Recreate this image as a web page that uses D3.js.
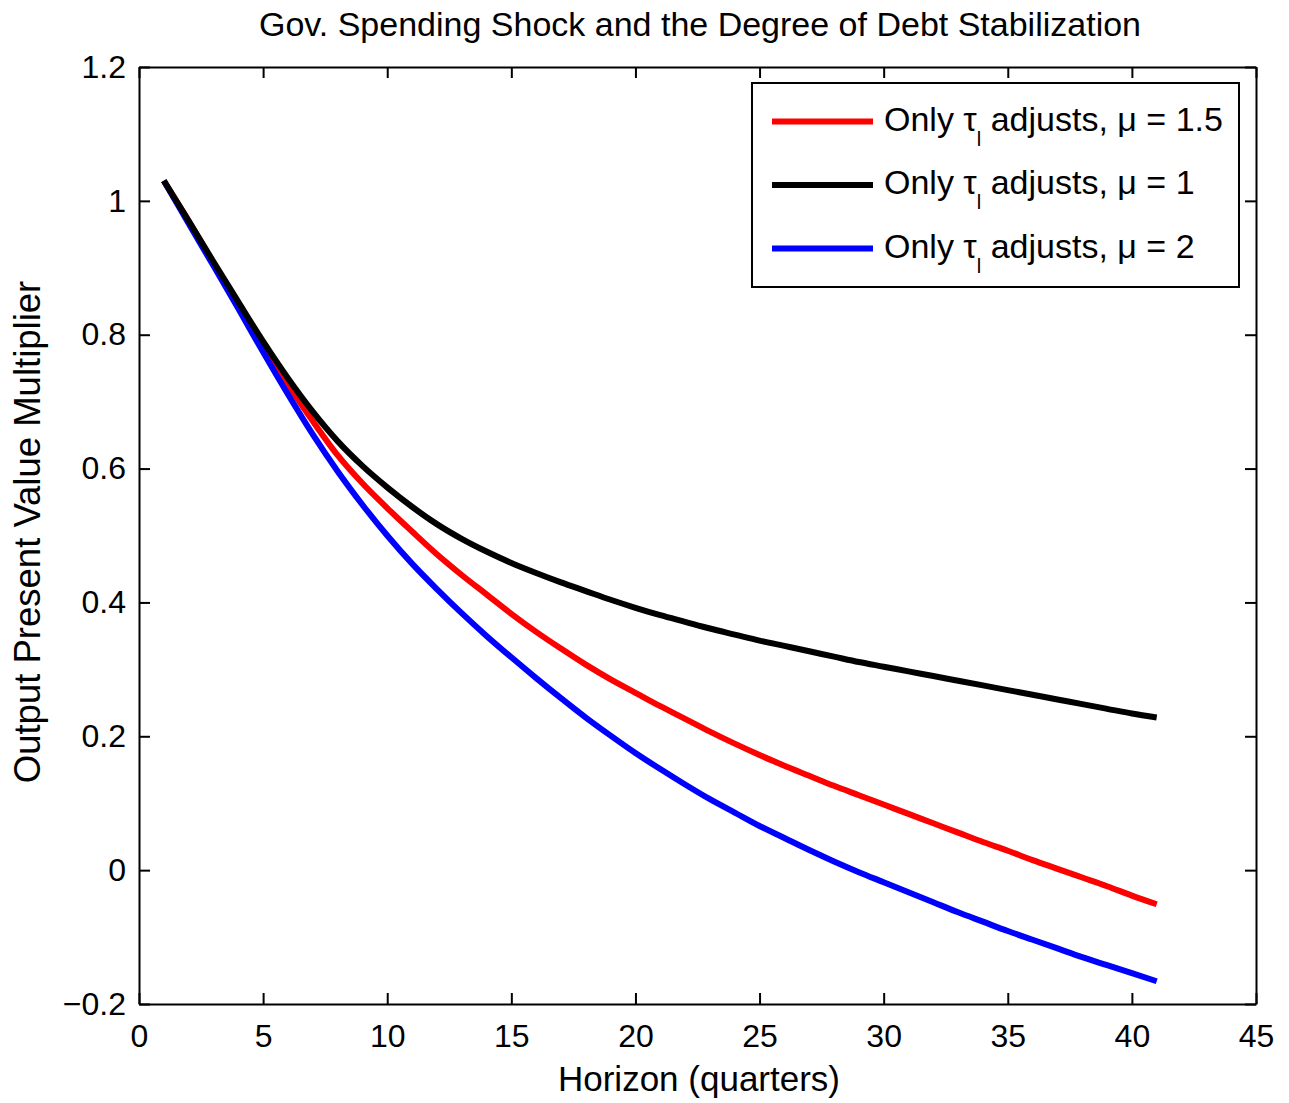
<!DOCTYPE html>
<html>
<head>
  <meta charset="utf-8">
  <title>Gov. Spending Shock</title>
  <script src="https://d3js.org/d3.v7.min.js"></script>
  <style>
    body { margin: 0; padding: 0; background: white; }
    svg { font-family: "Liberation Sans", Arial, sans-serif; }
    .axis path, .axis line { stroke: black; stroke-width: 2px; }
    .axis text { font-size: 32px; fill: black; }
  </style>
</head>
<body>
<div id="chart"></div>
<script>
  // horizon in quarters
  var horizon = d3.range(1, 42);

  // mu = 1.5 (red)
  var mu15 = [1.030, 0.970, 0.907, 0.845, 0.784, 0.726, 0.671, 0.620, 0.578, 0.541,
              0.506, 0.472, 0.441, 0.412, 0.383, 0.356, 0.331, 0.307, 0.285, 0.265,
              0.245, 0.226, 0.207, 0.189, 0.172, 0.156, 0.141, 0.126, 0.112, 0.098,
              0.084, 0.070, 0.056, 0.042, 0.029, 0.015, 0.002, -0.011, -0.024, -0.038,
              -0.051];
  // mu = 1 (black)
  var mu1 = [1.030, 0.970, 0.909, 0.849, 0.790, 0.735, 0.685, 0.641, 0.604, 0.572,
             0.543, 0.517, 0.495, 0.476, 0.459, 0.444, 0.430, 0.417, 0.404, 0.392,
             0.381, 0.371, 0.361, 0.352, 0.343, 0.335, 0.327, 0.319, 0.311, 0.304,
             0.297, 0.290, 0.283, 0.276, 0.269, 0.262, 0.255, 0.248, 0.241, 0.234,
             0.228];
  // mu = 2 (blue)
  var mu2 = [1.030, 0.966, 0.903, 0.839, 0.774, 0.711, 0.651, 0.596, 0.546, 0.500,
             0.458, 0.420, 0.384, 0.350, 0.318, 0.287, 0.257, 0.228, 0.201, 0.175,
             0.151, 0.128, 0.106, 0.086, 0.066, 0.048, 0.030, 0.013, -0.003, -0.018,
             -0.033, -0.048, -0.063, -0.077, -0.091, -0.104, -0.117, -0.130, -0.142, -0.154,
             -0.166];

  var xTicks = [0, 5, 10, 15, 20, 25, 30, 35, 40, 45];
  var yTicks = [-0.2, 0, 0.2, 0.4, 0.6, 0.8, 1, 1.2];

  var series = [
    { mu: "1.5", values: mu15, color: "#ff0000" },
    { mu: "1", values: mu1, color: "#000000" },
    { mu: "2", values: mu2, color: "#0000ff" }
  ];

  var width = 1289, height = 1103;
  var margin = { left: 139, right: 33, top: 67, bottom: 99 };
  var w = width - margin.left - margin.right,
      h = height - margin.top - margin.bottom;

  var svg = d3.select("#chart").append("svg")
      .attr("width", width)
      .attr("height", height);

  var g = svg.append("g")
      .attr("transform", "translate(" + margin.left + "," + margin.top + ")");

  var x = d3.scaleLinear().domain([0, 45]).range([0, w]);
  var y = d3.scaleLinear().domain([-0.2, 1.2]).range([h, 0]);

  var fmt = function(d) { return d < 0 ? "\u2212" + Math.abs(d) : String(d); };

  // axes, ticks pointing inward like matlab
  g.append("g").attr("class", "axis")
    .attr("transform", "translate(0," + h + ")")
    .call(d3.axisBottom(x).tickValues(xTicks).tickSize(-11).tickSizeOuter(0).tickPadding(20).tickFormat(fmt));
  g.append("g").attr("class", "axis")
    .call(d3.axisTop(x).tickValues(xTicks).tickSize(-11).tickSizeOuter(0).tickFormat(""));
  g.append("g").attr("class", "axis")
    .call(d3.axisLeft(y).tickValues(yTicks).tickSize(-11).tickSizeOuter(0).tickPadding(13).tickFormat(fmt));
  g.append("g").attr("class", "axis")
    .attr("transform", "translate(" + w + ",0)")
    .call(d3.axisRight(y).tickValues(yTicks).tickSize(-11).tickSizeOuter(0).tickFormat(""));

  // curves
  var line = d3.line()
    .x(function(d, i) { return x(horizon[i]); })
    .y(function(d) { return y(d); })
    .curve(d3.curveMonotoneX);

  // red, blue, then black on top where they overlap
  [series[0], series[2], series[1]].forEach(function(s) {
    g.append("path")
      .attr("d", line(s.values))
      .attr("fill", "none")
      .attr("stroke", s.color)
      .attr("stroke-width", 6);
  });

  // title and labels
  svg.append("text")
    .attr("x", 700).attr("y", 36)
    .attr("text-anchor", "middle")
    .attr("font-size", 34)
    .text("Gov. Spending Shock and the Degree of Debt Stabilization");

  svg.append("text")
    .attr("x", 699).attr("y", 1091)
    .attr("text-anchor", "middle")
    .attr("font-size", 35)
    .text("Horizon (quarters)");

  svg.append("text")
    .attr("transform", "translate(40,532) rotate(-90)")
    .attr("text-anchor", "middle")
    .attr("font-size", 36.5)
    .text("Output Present Value Multiplier");

  // legend
  var legend = svg.append("g").attr("transform", "translate(752,83)");
  legend.append("rect")
    .attr("width", 487).attr("height", 204)
    .attr("fill", "white").attr("stroke", "black").attr("stroke-width", 2);

  var items = legend.selectAll(".item")
    .data(series)
    .enter().append("g")
      .attr("transform", function(d, i) { return "translate(0," + (38.5 + i * 63.5) + ")"; });

  items.append("line")
    .attr("x1", 20).attr("x2", 121)
    .attr("stroke", function(d) { return d.color; })
    .attr("stroke-width", 6);

  var txt = items.append("text")
    .attr("x", 132).attr("y", 9)
    .attr("font-size", 34);
  txt.append("tspan").text("Only \u03c4");
  txt.append("tspan").attr("font-size", 20).attr("dy", 15).text("l");
  txt.append("tspan").attr("dy", -15).text(function(d) { return " adjusts, \u03bc = " + d.mu; });
</script>
</body>
</html>
